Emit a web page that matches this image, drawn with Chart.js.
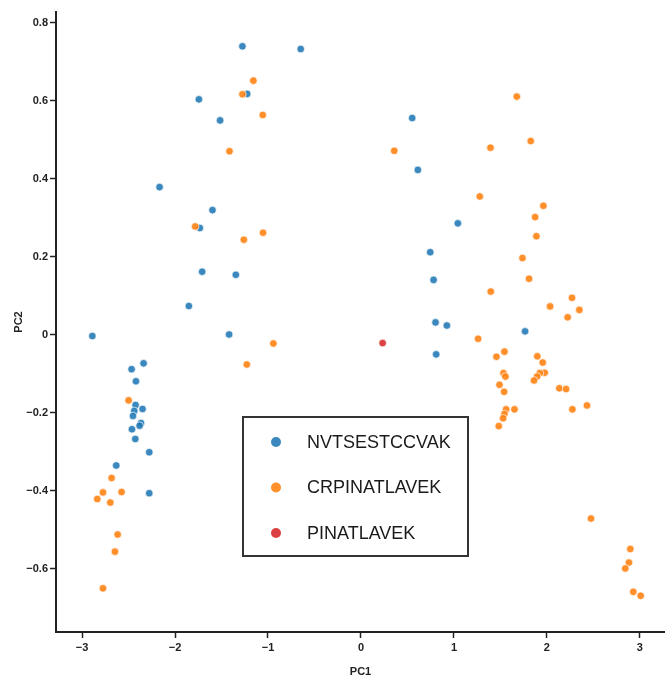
<!DOCTYPE html>
<html>
<head>
<meta charset="utf-8">
<script src="https://cdn.jsdelivr.net/npm/chart.js@4/dist/chart.umd.min.js"></script>
<style>
  html, body { margin: 0; padding: 0; background: #fff; }
  #wrap { width: 665px; height: 682px; }
</style>
</head>
<body>
<div id="wrap"><canvas id="pca"></canvas></div>
<script>
const seriesNames = ['NVTSESTCCVAK', 'CRPINATLAVEK', 'PINATLAVEK'];
const seriesColors = ['rgba(31, 119, 180, 0.88)', 'rgba(255, 127, 14, 0.88)', 'rgba(214, 39, 40, 0.88)'];

const nvtX = [-1.275, -0.648, -1.224, -1.743, -1.515, -2.166, -1.597, -1.733, -1.708, -1.346, -1.851, -1.418, -2.889,
  0.551, 0.612, 1.042, 0.745, 0.781, 0.802, 0.924, 1.765, 0.809,
  -2.338, -2.467, -2.420, -2.424, -2.349, -2.438, -2.452, -2.366, -2.381, -2.463, -2.427, -2.277, -2.632, -2.277];
const nvtY = [0.740, 0.733, 0.618, 0.604, 0.550, 0.379, 0.320, 0.274, 0.162, 0.154, 0.074, 0.001, -0.003,
  0.556, 0.423, 0.286, 0.212, 0.141, 0.032, 0.024, 0.009, -0.050,
  -0.073, -0.088, -0.119, -0.180, -0.190, -0.195, -0.208, -0.226, -0.233, -0.242, -0.267, -0.301, -0.335, -0.406];

const crpX = [-1.157, -1.275, -1.056, -1.414, -1.783, -1.260, -1.053, -0.942, -1.228,
  -2.499, -2.682, -2.775, -2.575, -2.836, -2.696, -2.617, -2.646, -2.775,
  1.676, 1.826, 1.393, 0.358, 1.278, 1.962, 1.873, 1.887, 1.737, 1.808, 1.396, 2.270, 2.034, 2.349, 2.223, 1.260,
  1.457, 1.543, 1.897, 1.955, 1.533, 1.554, 1.976, 1.923, 1.894, 1.861, 1.490, 1.540, 2.134, 2.206,
  1.561, 1.651, 1.543, 1.529, 1.482, 2.274, 2.431,
  2.474, 2.897, 2.882, 2.843, 2.929, 3.008];
const crpY = [0.652, 0.617, 0.564, 0.471, 0.278, 0.244, 0.262, -0.022, -0.076,
  -0.168, -0.367, -0.404, -0.403, -0.421, -0.430, -0.512, -0.556, -0.650,
  0.611, 0.497, 0.480, 0.472, 0.355, 0.331, 0.302, 0.253, 0.197, 0.144, 0.111, 0.095, 0.073, 0.064, 0.045, -0.010,
  -0.056, -0.043, -0.055, -0.071, -0.098, -0.107, -0.097, -0.098, -0.107, -0.117, -0.128, -0.146, -0.137, -0.139,
  -0.191, -0.191, -0.203, -0.214, -0.234, -0.191, -0.181,
  -0.471, -0.549, -0.584, -0.599, -0.659, -0.669];

const pinX = [0.233];
const pinY = [-0.021];

const xTicks = [-3, -2, -1, 0, 1, 2, 3];
const yTicks = [-0.6, -0.4, -0.2, 0, 0.2, 0.4, 0.6, 0.8];

const toPoints = (xs, ys) => xs.map((x, i) => ({ x: x, y: ys[i] }));
const fmt = (v) => String(+v.toFixed(1)).replace('-', '\u2212');

const boxLegend = {
    id: 'boxLegend',
    afterDraw(chart) {
        const { ctx } = chart;
        const left = 243, top = 417, w = 225, h = 139;
        ctx.save();
        ctx.fillStyle = '#fff';
        ctx.fillRect(left, top, w, h);
        ctx.strokeStyle = '#333';
        ctx.lineWidth = 2;
        ctx.strokeRect(left, top, w, h);
        ctx.font = '18px "Liberation Sans", Arial, sans-serif';
        ctx.textBaseline = 'middle';
        ctx.textAlign = 'left';
        chart.data.datasets.forEach((ds, i) => {
            const cy = top + 25 + i * 45.5;
            ctx.beginPath();
            ctx.arc(left + 33, cy, 5, 0, Math.PI * 2);
            ctx.fillStyle = ds.backgroundColor;
            ctx.fill();
            ctx.fillStyle = '#1a1a1a';
            ctx.fillText(ds.label, left + 64, cy + 1);
        });
        ctx.restore();
    }
};

const seriesData = [toPoints(nvtX, nvtY), toPoints(crpX, crpY), toPoints(pinX, pinY)];

const tickFont = { family: '"Liberation Sans", Arial, sans-serif', size: 11, weight: 'bold' };

new Chart(document.getElementById('pca'), {
    type: 'scatter',
    data: {
        datasets: seriesNames.map((name, i) => ({
            label: name,
            data: seriesData[i],
            backgroundColor: seriesColors[i],
            borderColor: 'rgba(255, 255, 255, 0.85)',
            borderWidth: 0.8,
            pointRadius: 3.8,
            order: 3 - i
        }))
    },
    options: {
        responsive: true, maintainAspectRatio: false, animation: false,
        layout: { autoPadding: false, padding: { top: 12, right: 0, left: 0, bottom: 0 } },
        plugins: { legend: { display: false }, tooltip: { enabled: false } },
        scales: {
            x: {
                type: 'linear', min: -3.28, max: 3.27,
                afterBuildTicks: axis => { axis.ticks = xTicks.map(v => ({ value: v })); },
                afterFit: s => { s.height = 50; s.paddingRight = 0; s.paddingLeft = 0; },
                ticks: { font: tickFont, color: '#222', padding: 3, callback: fmt },
                grid: { drawOnChartArea: false, tickLength: 6, tickColor: '#222', tickWidth: 1.5 },
                border: { display: true, color: '#222', width: 2 },
                title: { display: true, text: 'PC1', color: '#222', font: { ...tickFont, size: 11 }, padding: { top: 0, bottom: 3 } }
            },
            y: {
                type: 'linear', min: -0.762, max: 0.828,
                afterBuildTicks: axis => { axis.ticks = yTicks.map(v => ({ value: v })); },
                afterFit: s => { s.width = 56; s.paddingTop = 0; s.paddingBottom = 0; },
                ticks: { font: tickFont, color: '#222', padding: 2, callback: fmt },
                grid: { drawOnChartArea: false, tickLength: 6, tickColor: '#222', tickWidth: 1.5 },
                border: { display: true, color: '#222', width: 2 },
                title: { display: true, text: 'PC2', color: '#222', font: { ...tickFont, size: 11 }, padding: { top: 12, bottom: 0 } }
            }
        }
    },
    plugins: [boxLegend]
});
</script>
</body>
</html>
